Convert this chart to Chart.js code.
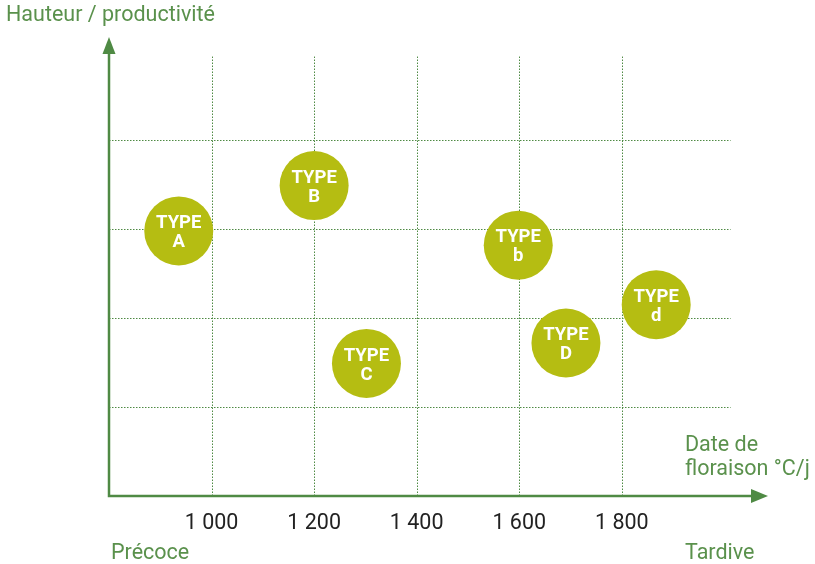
<!DOCTYPE html>
<html lang="fr">
<head>
<meta charset="utf-8">
<title>Types - hauteur et date de floraison</title>
<script src="https://cdn.jsdelivr.net/npm/chart.js@4/dist/chart.umd.min.js"></script>
<style>
  html, body { margin: 0; padding: 0; background: #fff; }
  #chart { display: block; }
</style>
</head>
<body>
<canvas id="chart" width="815" height="564"></canvas>
<script>
'use strict'

// types et positions (date de floraison en °C/j, hauteur en unités de grille)
var types = ['A', 'B', 'C', 'b', 'D', 'd'];
var floraison = [936, 1200, 1302, 1598, 1691, 1867];
var hauteur = [2.98, 3.49, 1.49, 2.82, 1.72, 2.15];
var xTicks = [1000, 1200, 1400, 1600, 1800];
var yLignes = [1, 2, 3, 4];

var VERT = '#4f8a44';
var VERT_TEXTE = '#5a914c';
var JAUNE = '#b5bd12';

function formatMille(n) {
    return String(n).replace(/\B(?=(\d{3})+$)/g, ' ');
}

var points = floraison.map(function (x, i) {
    return { x: x, y: hauteur[i], r: 34.5 };
});

// grille pointillée, axes fléchés et textes
var decor = {
    id: 'decor',
    beforeDatasetsDraw: function (chart, args, opts) {
        var ctx = chart.ctx;
        var xs = chart.scales.x;
        var ys = chart.scales.y;
        var area = chart.chartArea;

        ctx.save();
        ctx.strokeStyle = VERT;
        ctx.lineWidth = 1;
        ctx.setLineDash([1.5, 1.5]);
        xTicks.forEach(function (v) {
            var px = Math.round(xs.getPixelForValue(v)) + 0.5;
            ctx.beginPath();
            ctx.moveTo(px, ys.getPixelForValue(0));
            ctx.lineTo(px, ys.getPixelForValue(opts.gridTop));
            ctx.stroke();
        });
        yLignes.forEach(function (v) {
            var py = Math.round(ys.getPixelForValue(v)) + 0.5;
            ctx.beginPath();
            ctx.moveTo(area.left, py);
            ctx.lineTo(xs.getPixelForValue(opts.gridRight), py);
            ctx.stroke();
        });
        ctx.setLineDash([]);

        // axes
        var x0 = area.left;
        var y0 = ys.getPixelForValue(0);
        ctx.strokeStyle = VERT;
        ctx.fillStyle = VERT;
        ctx.lineWidth = 2.5;
        ctx.beginPath();
        ctx.moveTo(x0, area.top + 14);
        ctx.lineTo(x0, y0);
        ctx.lineTo(area.right - 14, y0);
        ctx.stroke();

        ctx.beginPath();
        ctx.moveTo(x0, area.top);
        ctx.lineTo(x0 - 6.5, area.top + 17);
        ctx.lineTo(x0 + 6.5, area.top + 17);
        ctx.closePath();
        ctx.fill();

        ctx.beginPath();
        ctx.moveTo(area.right, y0);
        ctx.lineTo(area.right - 17, y0 - 7);
        ctx.lineTo(area.right - 17, y0 + 7);
        ctx.closePath();
        ctx.fill();

        // graduations
        ctx.font = '21.5px Roboto';
        ctx.fillStyle = '#222';
        ctx.textAlign = 'center';
        ctx.textBaseline = 'middle';
        xTicks.forEach(function (v) {
            ctx.fillText(formatMille(v), xs.getPixelForValue(v), y0 + 28);
        });

        // titres
        ctx.fillStyle = VERT_TEXTE;
        ctx.textAlign = 'left';
        ctx.textBaseline = 'alphabetic';
        ctx.fillText('Hauteur / productivité', 6, 21);
        ctx.fillText('Date de', 685, 451);
        ctx.fillText('floraison °C/j', 685, 475);
        ctx.fillText('Précoce', 111, 559);
        ctx.fillText('Tardive', 685, 559);
        ctx.restore();
    },
    afterDatasetsDraw: function (chart) {
        var ctx = chart.ctx;
        var meta = chart.getDatasetMeta(0);
        ctx.save();
        ctx.fillStyle = '#fff';
        ctx.font = 'bold 18.5px Roboto';
        ctx.textAlign = 'center';
        ctx.textBaseline = 'middle';
        meta.data.forEach(function (el, i) {
            ctx.fillText('TYPE', el.x, el.y - 7.5);
            ctx.fillText(types[i], el.x, el.y + 11.5);
        });
        ctx.restore();
    }
};

new Chart(document.getElementById('chart'), {
    type: 'bubble',
    data: {
        datasets: [{
            data: points,
            backgroundColor: JAUNE,
            borderWidth: 0,
            hoverBorderWidth: 0
        }]
    },
    options: {
        responsive: false,
        devicePixelRatio: 1,
        animation: false,
        events: [],
        layout: { padding: { left: 109, right: 47, top: 37, bottom: 68 } },
        scales: {
            x: { type: 'linear', display: false, min: 800, max: 2085 },
            y: { type: 'linear', display: false, min: 0, max: 5.16 }
        },
        plugins: {
            legend: { display: false },
            tooltip: { enabled: false },
            decor: { gridTop: 4.94, gridRight: 2012 }
        }
    },
    plugins: [decor]
});
</script>
</body>
</html>
